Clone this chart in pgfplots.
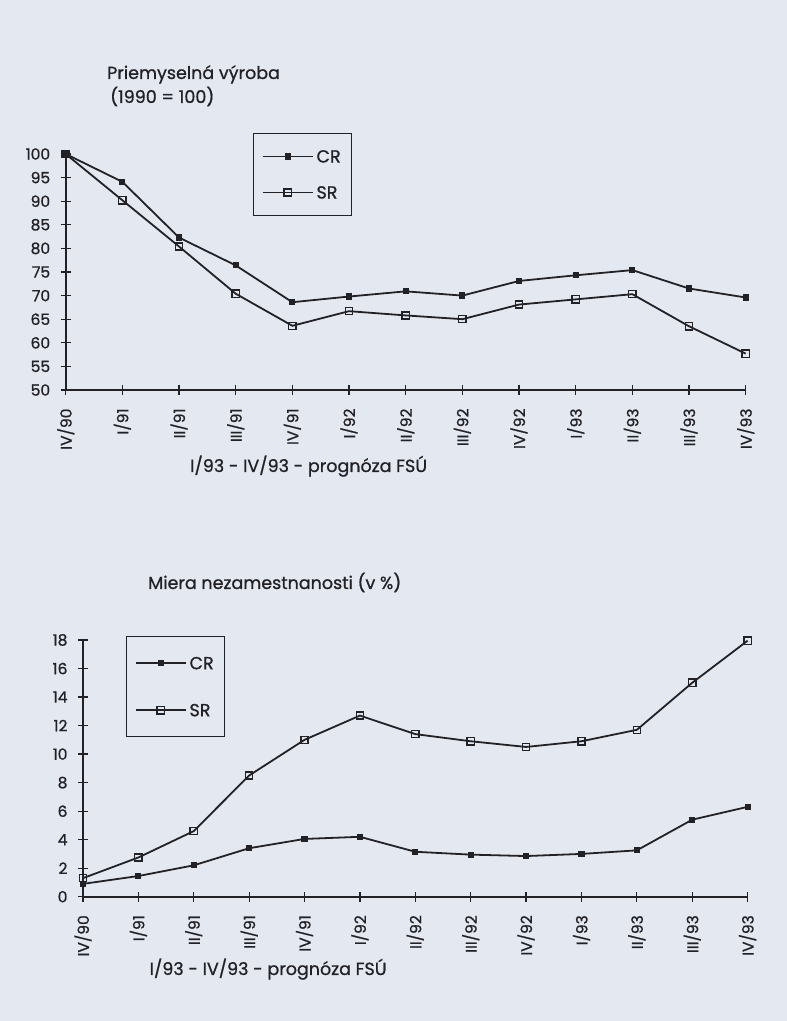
\documentclass[border=0pt]{standalone}
\usepackage{fontspec}
\setmainfont{Poppins}[FakeBold=0.9]
\usepackage{pgfplots}
\pgfplotsset{compat=1.18}

\definecolor{paper}{RGB}{228,232,241}
\definecolor{ink}{RGB}{34,34,38}

\newcommand{\txt}{\fontsize{17.5}{20}\selectfont}
\newcommand{\tck}{\fontsize{15.5}{17}\selectfont}

\pgfplotsset{
  scanaxis/.style={
    scale only axis,
    axis lines=left,
    axis line style={-, ink, line width=1.8pt},
    xmin=0, xmax=12,
    xtick={0,...,12},
    xticklabels={IV/90,I/91,II/91,III/91,IV/91,I/92,II/92,III/92,IV/92,I/93,II/93,III/93,IV/93},
    tick align=center,
    major tick length=10pt,
    tick style={ink, line width=1.2pt},
    ticklabel style={font=\tck, text=ink},
    xticklabel style={rotate=90, anchor=east, xshift=-10pt},
    yticklabel style={xshift=-7pt},
    /pgf/number format/assume math mode=true,
    clip=false,
    legend cell align=left,
    legend image code/.code={\draw[mark repeat=2,mark phase=2] plot coordinates {(0pt,0pt) (25pt,0pt) (50pt,0pt)};},
  },
  cr/.style={ink, line width=1.8pt, mark=square*, mark size=2.2pt, mark options={solid}},
  sr/.style={ink, line width=1.8pt, mark=square, mark size=3.6pt, mark options={solid, fill=paper, line width=1.4pt}},
}

\begin{document}
\begin{tikzpicture}[x=1pt,y=1pt]
\fill[paper] (0,0) rectangle (787,1021);
\useasboundingbox (0,0) rectangle (787,1021);

% titles, top chart
\node[anchor=base west, inner sep=0, font=\txt, text=ink] at (107,942) {Priemyselná výroba};
\node[anchor=base west, inner sep=0, font=\txt, text=ink] at (110,918) {(1990 = 100)};
\node[anchor=base west, inner sep=0, font=\txt, text=ink] at (190,549) {I/93 - IV/93 - prognóza FSÚ};

\begin{axis}[scanaxis,
    at={(65.7pt,631pt)}, anchor=south west,
    width=680pt, height=236pt,
    ymin=50, ymax=100,
    ytick={50,55,...,100},
    legend style={at={(0.2754,1.090)}, anchor=north west, draw=ink, line width=1.5pt,
      fill=none, inner xsep=8pt, inner ysep=14pt, row sep=18pt, font=\txt, text=ink,
      nodes={text height=12pt, text depth=0pt, inner sep=3pt}},
  ]
  \addplot[cr] coordinates {
    (0,100) (1,94.1) (2,82.3) (3,76.4) (4,68.6) (5,69.8) (6,70.9)
    (7,70.0) (8,73.1) (9,74.3) (10,75.4) (11,71.5) (12,69.6)
  };
  \addlegendentry{CR}
  \addplot[sr] coordinates {
    (0,100) (1,90.2) (2,80.4) (3,70.4) (4,63.6) (5,66.7) (6,65.8)
    (7,65.0) (8,68.1) (9,69.2) (10,70.3) (11,63.5) (12,57.7)
  };
  \addlegendentry{SR}
\end{axis}

% titles, bottom chart
\node[anchor=base west, inner sep=0, font=\txt, text=ink] at (148,432) {Miera nezamestnanosti (v \%)};
\node[anchor=base west, inner sep=0, font=\txt, text=ink] at (149.5,46) {I/93 - IV/93 - prognóza FSÚ};

\begin{axis}[scanaxis,
    at={(83pt,124.3pt)}, anchor=south west,
    width=664.6pt, height=256.7pt,
    ymin=0, ymax=18,
    ytick={0,2,...,18},
    legend style={at={(0.0647,1.0156)}, anchor=north west, draw=ink, line width=1.5pt,
      fill=none, inner xsep=8pt, inner ysep=17.5pt, row sep=29pt, font=\txt, text=ink,
      nodes={text height=12pt, text depth=0pt, inner sep=3pt}},
  ]
  \addplot[cr] coordinates {
    (0,0.9) (1,1.45) (2,2.2) (3,3.4) (4,4.05) (5,4.2) (6,3.15)
    (7,2.95) (8,2.85) (9,3.0) (10,3.25) (11,5.4) (12,6.3)
  };
  \addlegendentry{CR}
  \addplot[sr] coordinates {
    (0,1.3) (1,2.75) (2,4.6) (3,8.5) (4,11.0) (5,12.7) (6,11.4)
    (7,10.9) (8,10.5) (9,10.9) (10,11.7) (11,15.0) (12,17.95)
  };
  \addlegendentry{SR}
\end{axis}
\end{tikzpicture}
\end{document}
